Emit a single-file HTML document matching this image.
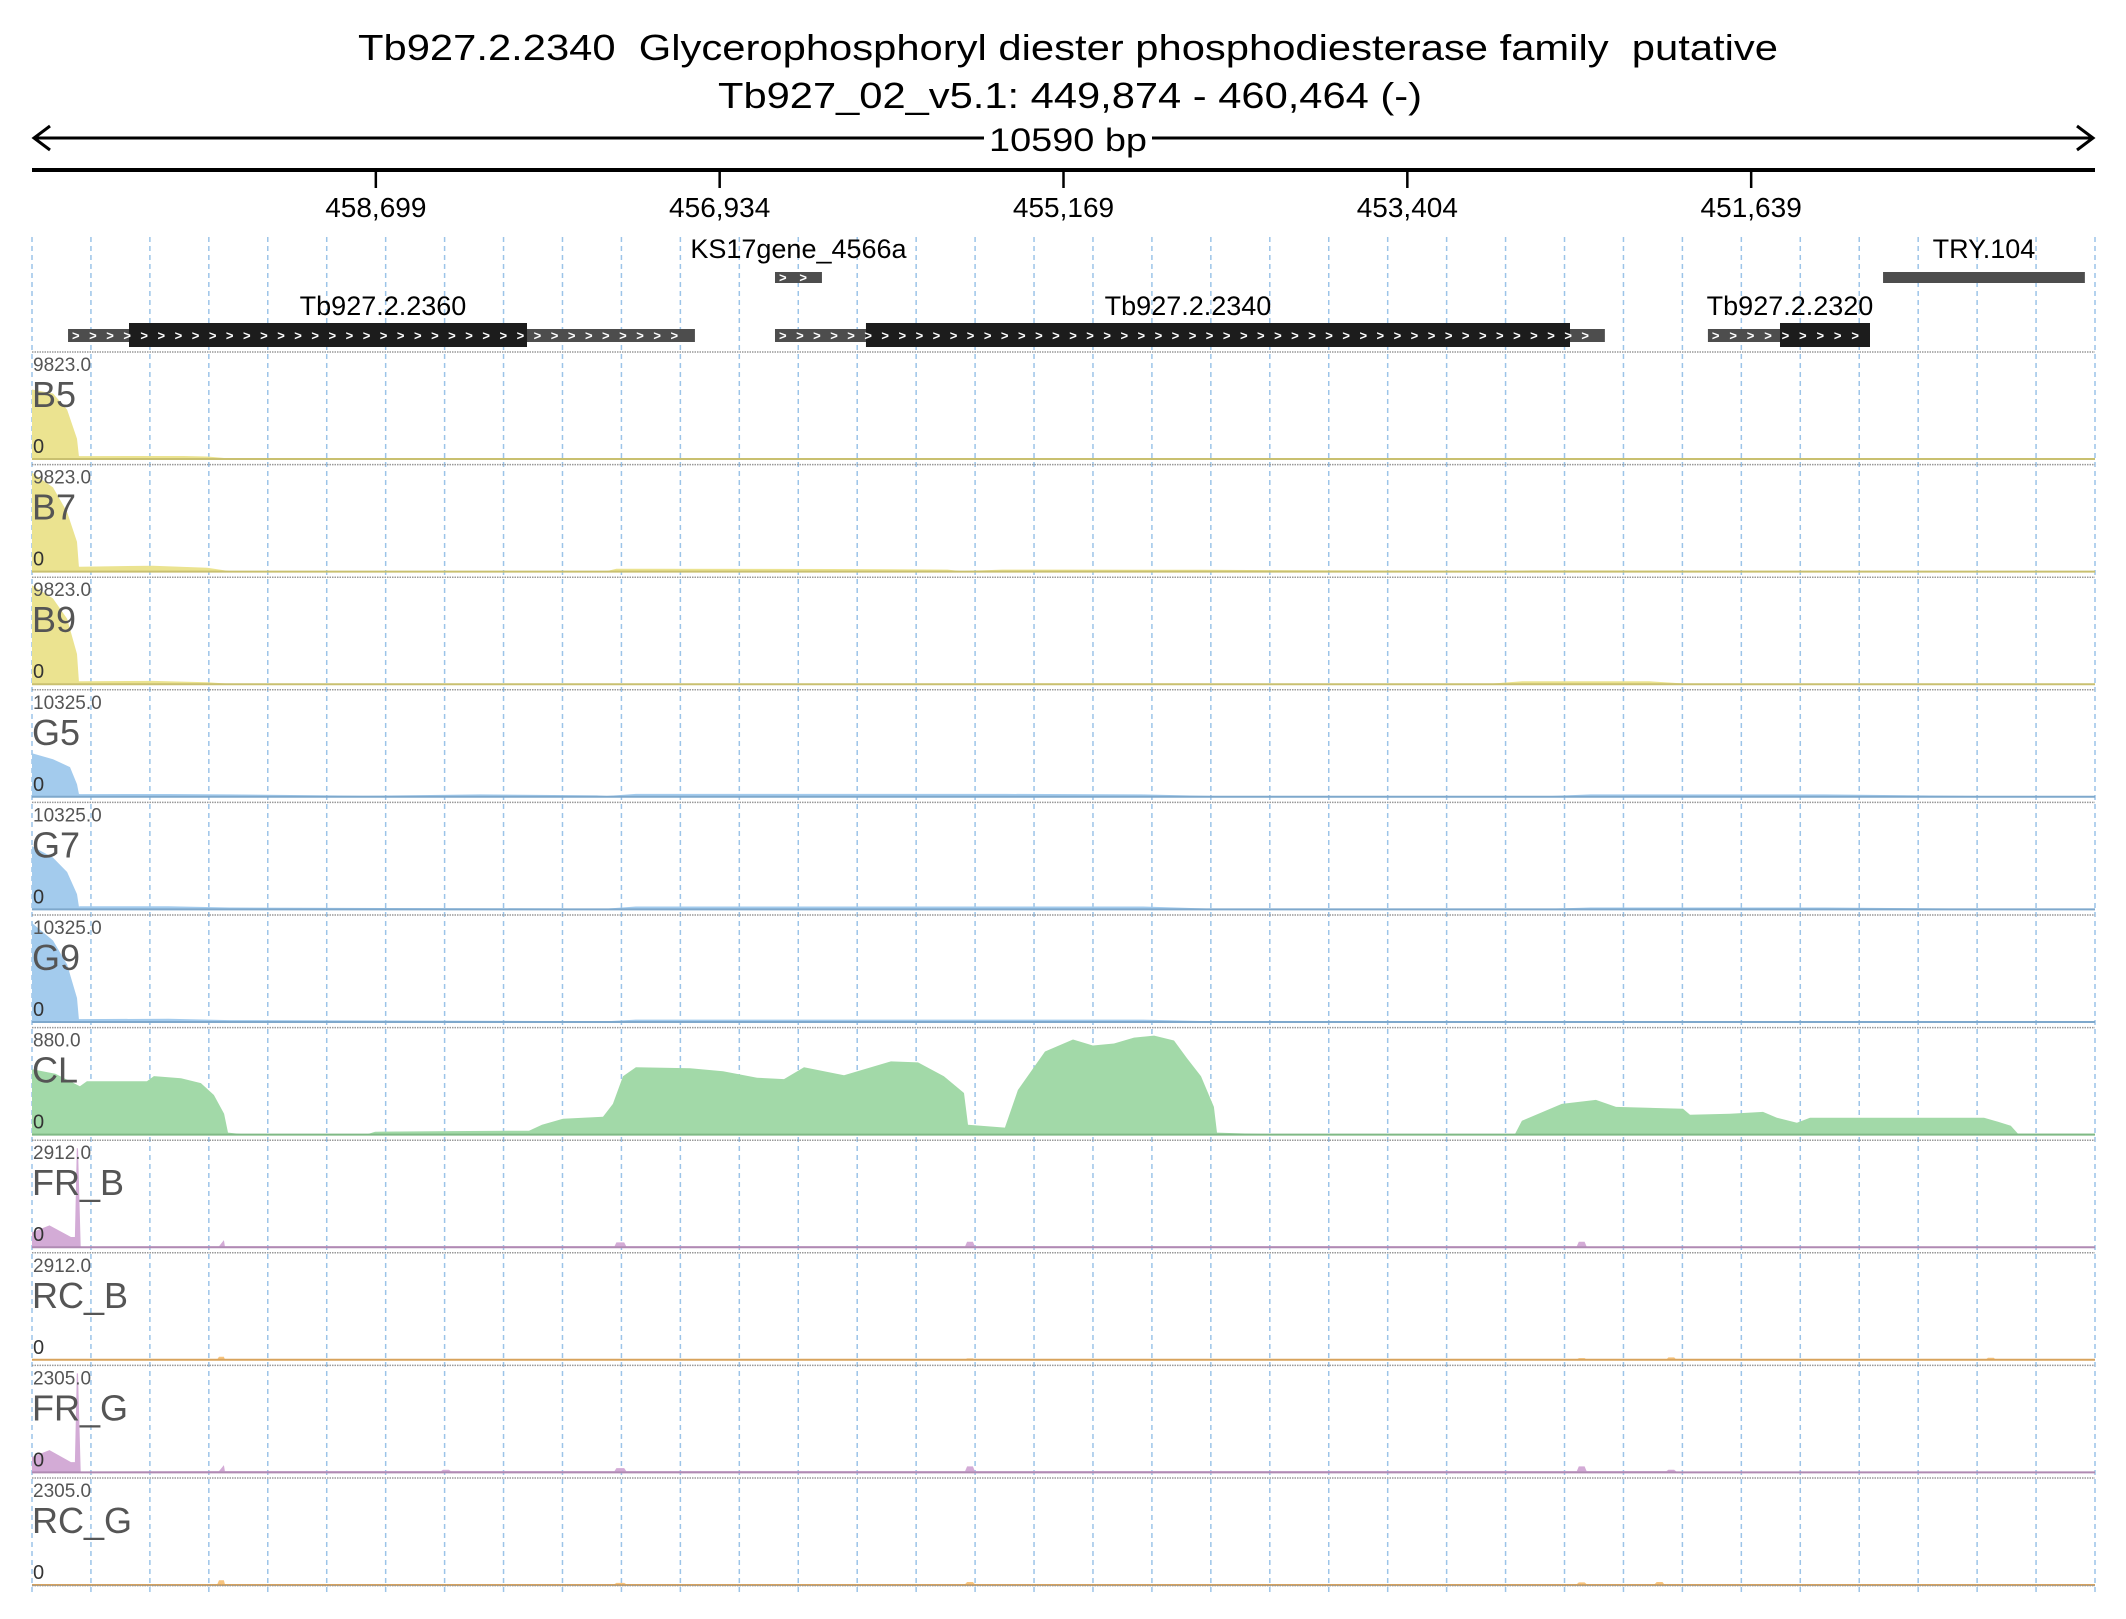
<!DOCTYPE html>
<html><head><meta charset="utf-8"><style>
html,body{margin:0;padding:0;background:#fff;}
svg{display:block;font-family:"Liberation Sans",sans-serif;}
</style></head><body>
<svg id="chart" width="2126" height="1619" viewBox="0 0 2126 1619">
<g id="header">
<text x="1068" y="60" font-size="36" text-anchor="middle" textLength="1420" lengthAdjust="spacingAndGlyphs">Tb927.2.2340&#160; Glycerophosphoryl diester phosphodiesterase family&#160; putative</text>
<text x="1070" y="108" font-size="36" text-anchor="middle" textLength="704" lengthAdjust="spacingAndGlyphs">Tb927_02_v5.1: 449,874 - 460,464 (-)</text>
<line x1="34" y1="138" x2="2093" y2="138" stroke="#000" stroke-width="3"/>
<polyline points="50,126 34,138 50,150" fill="none" stroke="#000" stroke-width="3"/>
<polyline points="2077,126 2093,138 2077,150" fill="none" stroke="#000" stroke-width="3"/>
<rect x="984" y="118" width="168" height="40" fill="#fff"/>
<text x="1068" y="151" font-size="32" text-anchor="middle" textLength="158" lengthAdjust="spacingAndGlyphs">10590 bp</text>
<line x1="32" y1="170" x2="2095" y2="170" stroke="#000" stroke-width="4"/>
</g>
<g id="grid"></g>
<g id="ticks"></g>
<g id="genes"></g>
<g id="tracks"></g>
</svg>
<script>
const NS='http://www.w3.org/2000/svg';
const svg=document.getElementById('chart');
const winStart=460464, winEnd=449874;
const X0=32, X1=2095;
function xs(bp){return X0+(winStart-bp)/(winStart-winEnd)*(X1-X0);}
function xo(off){return X0+off/(winStart-winEnd)*(X1-X0);}
function mk(tag,attrs,parent){const e=document.createElementNS(NS,tag);for(const k in attrs)e.setAttribute(k,attrs[k]);parent.appendChild(e);return e;}

const tickPositions=[458699,456934,455169,453404,451639];
const tickLabels=['458,699','456,934','455,169','453,404','451,639'];

const geneNames=['Tb927.2.2360','Tb927.2.2340','Tb927.2.2320'];
const geneStart=[460279,456650,451861];
const geneEnd=[457061,452390,451029];
const cdsStart=[459966,456183,451491];
const cdsEnd=[457923,452569,451029];
const miscNames=['KS17gene_4566a','TRY.104'];
const miscStart=[456650,450962];
const miscEnd=[456409,449926];

const trackNames=['B5','B7','B9','G5','G7','G9','CL','FR_B','RC_B','FR_G','RC_G'];
const trackMax=[9823,9823,9823,10325,10325,10325,880,2912,2912,2305,2305];
const B5pos=[0,108,180,231,241,246,780,900,1015,4350,5300,6500,7300,10590];
const B5val=[6900,6500,4900,2000,300,290,300,250,50,50,90,90,40,40];
const B7pos=[0,108,180,231,241,246,620,900,1015,2950,3000,4100,4700,4770,4980,5300,6000,7570,7700,8500,10590];
const B7val=[9823,8350,5900,2950,500,490,590,390,50,50,290,260,200,50,200,200,180,50,120,100,40];
const B9pos=[0,108,180,231,241,246,620,900,1015,2950,5300,7500,7650,8300,8500,10590];
const B9val=[9823,8500,6500,3000,300,290,330,200,50,60,80,70,300,300,50,40];
const G5pos=[0,108,195,231,241,246,700,1015,1700,2300,2900,2950,3100,4000,5000,5700,6050,7800,8000,9200,10000,10590];
const G5val=[4540,3920,3100,1300,300,280,290,250,100,250,150,80,300,300,300,250,80,80,250,250,80,60];
const G7pos=[0,108,180,231,241,246,700,1015,2950,3100,5700,6050,7800,8000,9200,10000,10590];
const G7val=[6600,5400,3900,1600,300,320,330,200,80,300,300,80,80,200,200,60,60];
const G9pos=[0,108,180,231,241,246,700,1015,2950,3100,5700,6050,10590];
const G9val=[10325,8500,6000,2500,300,300,330,200,80,250,250,80,60];
const CLpos=[0,120,246,282,590,626,765,867,934,986,1006,1073,1725,1761,2141,2551,2618,2726,2931,2982,3034,3100,3378,3547,3722,3860,3963,4168,4409,4548,4681,4784,4805,4994,5061,5200,5344,5446,5554,5657,5760,5862,5929,6001,6067,6083,6309,7612,7648,7853,8028,8131,8475,8511,8716,8886,8957,9060,9127,10020,10092,10158,10194,10590];
const CLval=[580,540,430,475,475,520,500,458,352,185,18,5,5,26,31,35,88,141,158,273,519,598,590,563,506,493,598,528,651,642,519,370,88,62,396,739,845,792,810,862,880,836,678,519,246,18,5,3,123,273,308,246,229,176,185,202,150,106,150,150,114,79,9,9];
const FRBpos=[0,90,200,220,230,236,250,950,960,985,990,2990,3000,3040,3050,4790,4800,4830,4840,7930,7940,7970,7980,10590];
const FRBval=[440,640,300,300,2912,2912,20,30,30,210,30,30,140,140,30,30,160,160,30,30,160,160,20,20];
const RCBpos=[0,950,960,985,990,4790,4800,4830,4840,7930,7940,7970,7980,8390,8400,8430,8440,10030,10040,10070,10080,10590];
const RCBval=[10,10,90,90,10,10,40,40,10,10,50,50,10,10,70,70,10,10,60,60,10,10];
const FRGpos=[0,90,200,220,230,236,250,950,960,985,990,2100,2110,2140,2150,2990,3000,3040,3050,4790,4800,4830,4840,7930,7940,7970,7980,8390,8400,8430,8440,10590];
const FRGval=[360,520,240,240,2305,2305,20,30,30,170,30,30,60,60,30,30,100,100,30,30,140,140,30,30,140,140,30,30,60,60,20,20];
const RCGpos=[0,950,960,985,990,2990,3000,3040,3050,4790,4800,4830,4840,7930,7940,7970,7980,8330,8340,8370,8380,10590];
const RCGval=[10,10,110,110,20,20,50,50,20,20,70,70,20,20,60,60,20,20,70,70,10,10];
const trackPos=[B5pos,B7pos,B9pos,G5pos,G7pos,G9pos,CLpos,FRBpos,RCBpos,FRGpos,RCGpos];
const trackVal=[B5val,B7val,B9val,G5val,G7val,G9val,CLval,FRBval,RCBval,FRGval,RCGval];
const trackColor=['#ebe390','#ebe390','#ebe390','#a3cbed','#a3cbed','#a3cbed','#a2d9a8','#d3abd6','#f7c47e','#d3abd6','#f7c47e'];
const trackLine=['#c9c070','#c9c070','#c9c070','#7ea8cc','#7ea8cc','#7ea8cc','#7fb985','#b08ab3','#d8a35c','#b08ab3','#d8a35c'];

const TOP0=352, PITCH=112.6, BASE=107, HMAX=99;

const grid=document.getElementById('grid');
for(let k=0;k<=35;k++){
  const x=X0+k*(X1-X0)/35;
  const l=mk('line',{x1:x,y1:237,x2:x,y2:1592,stroke:'#9cc4e8','stroke-width':1.5,'stroke-dasharray':'5,4'},grid);
  
  
}

const tg=document.getElementById('ticks');
tickPositions.forEach((p,i)=>{
  const x=xs(p);
  const l=mk('line',{x1:x,y1:170,x2:x,y2:188,stroke:'#000','stroke-width':2.5},tg);
  
  
  const t=mk('text',{x:x,y:217,'font-size':28,'text-anchor':'middle'},tg);
  t.textContent=tickLabels[i];
  
  
});

const gg=document.getElementById('genes');
function chevrons(x1,x2,y,parent){
  let s='';const n=Math.floor((x2-x1-4)/17);
  for(let i=0;i<n;i++)s+='>';
  if(n<1)return;
  const t=mk('text',{x:x1+4,y:y,'font-size':13,fill:'#fff','font-weight':'bold',textLength:n*17-6,lengthAdjust:'spacing'},parent);
  t.textContent=s;
  
  
}
const geneLabelX=[383,1188,1790];
geneNames.forEach((nm,i)=>{
  const g=mk('g',{},gg);
  
  
  const ux1=xs(geneStart[i]),ux2=xs(geneEnd[i]);
  const u=mk('rect',{x:ux1,y:329,width:ux2-ux1,height:13,fill:'#4d4d4d'},g);
  
  
  const cx1=xs(cdsStart[i]),cx2=xs(cdsEnd[i]);
  const c=mk('rect',{x:cx1,y:323,width:cx2-cx1,height:24,fill:'#1c1c1c'},g);
  
  
  chevrons(ux1,ux2,340,g);
  const t=mk('text',{x:geneLabelX[i],y:315,'font-size':27,'text-anchor':'middle'},g);
  t.textContent=nm;
  
  
});
miscNames.forEach((nm,i)=>{
  const g=mk('g',{},gg);
  
  
  const x1=xs(miscStart[i]),x2=xs(miscEnd[i]);
  const r=mk('rect',{x:x1,y:272,width:x2-x1,height:11,fill:'#4d4d4d'},g);
  
  
  if(i===0)chevrons(x1,x2,282,g);
  const t=mk('text',{x:(x1+x2)/2,y:258,'font-size':27,'text-anchor':'middle'},g);
  t.textContent=nm;
  
  
});

const tr=document.getElementById('tracks');
trackNames.forEach((nm,i)=>{
  const top=TOP0+i*PITCH, base=top+BASE;
  const g=mk('g',{},tr);
  
  
  const sep=mk('line',{x1:32,y1:top,x2:2095,y2:top,stroke:'#999','stroke-width':1.5,'stroke-dasharray':'1.5,1'},g);
  
  
  const pos=trackPos[i],val=trackVal[i];
  let d='M'+xo(pos[0])+','+base;
  for(let k=0;k<pos.length;k++){
    const y=base-Math.min(val[k],trackMax[i])/trackMax[i]*HMAX;
    d+=' L'+xo(pos[k]).toFixed(1)+','+y.toFixed(1);
  }
  d+=' L'+xo(pos[pos.length-1])+','+base+' Z';
  const a=mk('path',{d:d,fill:trackColor[i],stroke:'none'},g);
  
  
  const bl=mk('line',{x1:32,y1:base,x2:2095,y2:base,stroke:trackLine[i],'stroke-width':2},g);
  
  
  const mx=mk('text',{x:33,y:top+19,'font-size':19,fill:'#555'},g);
  mx.textContent=trackMax[i].toFixed(1);
  
  
  const tn=mk('text',{x:32,y:top+55,'font-size':36,fill:'#555'},g);
  tn.textContent=nm;
  
  
  const z=mk('text',{x:33,y:top+101,'font-size':20,fill:'#333'},g);
  z.textContent='0';
  
  
});
const lastSep=mk('line',{x1:32,y1:TOP0+11*PITCH-5,x2:2095,y2:TOP0+11*PITCH-5,stroke:'#999','stroke-width':1.5,'stroke-dasharray':'1.5,1'},tr);


</script>
</body></html>
